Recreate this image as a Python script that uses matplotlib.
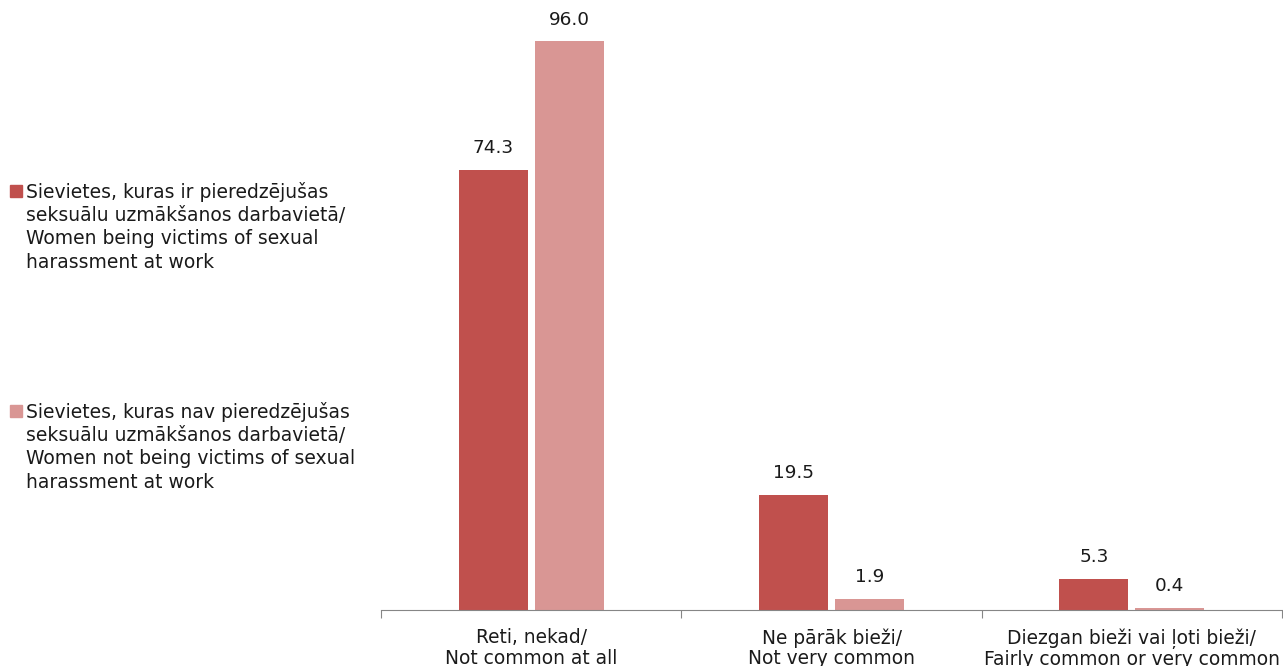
import numpy as np
import matplotlib.pyplot as plt
from matplotlib.patches import Rectangle

plt.rcParams['font.family'] = ['DejaVu Sans']

categories = ['Reti, nekad/\nNot common at all',
              'Ne pārāk bieži/\nNot very common',
              'Diezgan bieži vai ļoti bieži/\nFairly common or very common']
victims = [74.3, 19.5, 5.3]
non_victims = [96.0, 1.9, 0.4]
series_names = ['Sievietes, kuras ir pieredzējušas\nseksuālu uzmākšanos darbavietā/\nWomen being victims of sexual\nharassment at work',
                'Sievietes, kuras nav pieredzējušas\nseksuālu uzmākšanos darbavietā/\nWomen not being victims of sexual\nharassment at work']
colors = ['#C0504D', '#D99694']

fig = plt.figure(figsize=(12.83, 6.66), dpi=100)
ax = fig.add_axes([381/1283, 56/666, 901/1283, 610/666])

x = np.arange(len(categories))
w = 0.23
gap = 0.023
b1 = ax.bar(x - w/2 - gap/2, victims, w, color=colors[0])
b2 = ax.bar(x + w/2 + gap/2, non_victims, w, color=colors[1])

for bars, vals in [(b1, victims), (b2, non_victims)]:
    for b, v in zip(bars, vals):
        ax.annotate(f'{v:.1f}', (b.get_x() + b.get_width()/2, v), xytext=(0, 9),
                    textcoords='offset points', ha='center', va='bottom',
                    fontsize=13.3, color='#1a1a1a')

ax.set_xlim(-0.5, 2.5)
ax.set_ylim(0, 103)
ax.set_yticks([])
for s in ['top', 'right', 'left']:
    ax.spines[s].set_visible(False)
ax.spines['bottom'].set_color('#868686')
ax.set_xticks([-0.5, 0.5, 1.5, 2.5])
ax.set_xticklabels([])
ax.tick_params(axis='x', length=6, color='#868686')
ax.set_xticks(x, minor=True)
ax.set_xticklabels(categories, minor=True, fontsize=13.4, color='#1a1a1a',
                   linespacing=1.1, family=['Liberation Sans Narrow', 'DejaVu Sans'])
ax.tick_params(axis='x', which='minor', length=0, pad=13)

# legend drawn by hand so the swatch sits on the first line
for i, (name, c) in enumerate(zip(series_names, colors)):
    top = 1 - (182 + 220 * i) / 666
    fig.text(26/1283, top, name, ha='left', va='top', fontsize=13.5,
             linespacing=1.28, color='#1a1a1a')
    fig.patches.append(Rectangle((10/1283, top - 15/666), 12/1283, 12/666,
                                 transform=fig.transFigure, color=c))

fig.savefig('out.png', dpi=100)
